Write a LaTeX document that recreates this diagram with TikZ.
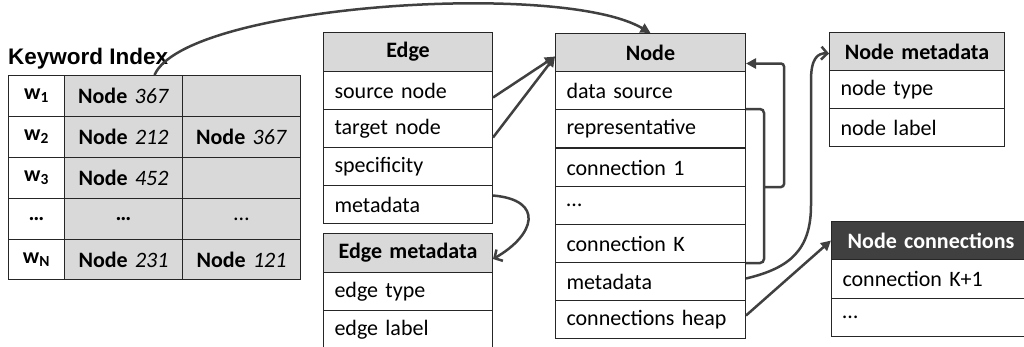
\documentclass[tikz,border=0pt]{standalone}
\usepackage{fontspec}
\setmainfont{Carlito}
\newfontfamily\titlefont{Liberation Sans}
\usetikzlibrary{arrows.meta}
\definecolor{hdrgray}{HTML}{D9D9D9}
\definecolor{linkgray}{HTML}{404040}
\definecolor{rulegray}{HTML}{262626}

\begin{document}
\begin{tikzpicture}[x=1pt,y=-1pt,
  cell/.style={draw=rulegray, line width=1pt, anchor=north west,
    inner xsep=11pt, inner ysep=0pt, minimum height=38pt, align=left,
    font=\fontsize{22}{26}\selectfont},
  hdr/.style={cell, fill=hdrgray, align=center, font=\fontsize{22}{26}\selectfont\bfseries},
  darkhdr/.style={hdr, fill=linkgray, text=white},
  kwcell/.style={cell, inner xsep=0pt, align=center, minimum height=41pt},
  kwgray/.style={kwcell, fill=hdrgray},
  conn/.style={draw=linkgray, line width=2.5pt},
  tri/.style={conn, -{Triangle[length=10pt,width=10pt]}},
  barb/.style={conn, -{Straight Barb[length=6pt,width=13pt]}}
]
\useasboundingbox (0,0) rectangle (1024,346);
\clip (0,0) rectangle (1024,346);

% ---- keyword index ----
\node[anchor=base west, inner sep=0pt, font=\titlefont\fontsize{22.5}{26}\selectfont\bfseries] (kwtitle) at (8,64) {Keyword Index};

\node[kwcell, text width=56pt]  (kw1a) at (8,75)   {\textbf{w\textsubscript{1}}};
\node[kwgray, text width=118pt] (kw1b) at (64,75)  {\textbf{Node} \textit{367}};
\node[kwgray, text width=118pt] (kw1c) at (182,75) {};
\node[kwcell, text width=56pt]  (kw2a) at (8,116)   {\textbf{w\textsubscript{2}}};
\node[kwgray, text width=118pt] (kw2b) at (64,116)  {\textbf{Node} \textit{212}};
\node[kwgray, text width=118pt] (kw2c) at (182,116) {\textbf{Node} \textit{367}};
\node[kwcell, text width=56pt]  (kw3a) at (8,157)   {\textbf{w\textsubscript{3}}};
\node[kwgray, text width=118pt] (kw3b) at (64,157)  {\textbf{Node} \textit{452}};
\node[kwgray, text width=118pt] (kw3c) at (182,157) {};
\node[kwcell, text width=56pt]  (kw4a) at (8,198)   {\textbf{…}};
\node[kwgray, text width=118pt] (kw4b) at (64,198)  {\textbf{…}};
\node[kwgray, text width=118pt] (kw4c) at (182,198) {…};
\node[kwcell, text width=56pt, minimum height=40pt]  (kw5a) at (8,239)   {\textbf{w\textsubscript{N}}};
\node[kwgray, text width=118pt, minimum height=40pt] (kw5b) at (64,239)  {\textbf{Node} \textit{231}};
\node[kwgray, text width=118pt, minimum height=40pt] (kw5c) at (182,239) {\textbf{Node} \textit{121}};

% ---- edge ----
\node[hdr,  text width=147pt, minimum height=39pt] (eh) at (323,32) {Edge};
\node[cell, text width=147pt] (e1) at (323,71)  {source node};
\node[cell, text width=147pt] (e2) at (323,109) {target node};
\node[cell, text width=147pt] (e3) at (323,147) {specificity};
\node[cell, text width=147pt] (e4) at (323,185) {metadata};

% ---- edge metadata ----
\node[hdr,  text width=147pt, minimum height=39pt] (emh) at (323,233) {Edge metadata};
\node[cell, text width=147pt] (em1) at (323,272) {edge type};
\node[cell, text width=147pt] (em2) at (323,310) {edge label};

% ---- node ----
\node[hdr,  text width=168pt] (nh) at (555,33) {Node};
\node[cell, text width=168pt] (n1) at (555,71)  {data source};
\node[cell, text width=168pt] (n2) at (555,109) {representative};
\node[cell, text width=168pt] (n3) at (555,148) {connection 1};
\node[cell, text width=168pt] (n4) at (555,186) {…};
\node[cell, text width=168pt] (n5) at (555,224) {connection K};
\node[cell, text width=168pt] (n6) at (555,262) {metadata};
\node[cell, text width=168pt] (n7) at (555,300) {connections heap};

% ---- node metadata ----
\node[hdr,  text width=153pt] (nmh) at (829,32) {Node metadata};
\node[cell, text width=153pt] (nm1) at (829,70)  {node type};
\node[cell, text width=153pt] (nm2) at (829,108) {node label};

% ---- node connections ----
\node[darkhdr, text width=177pt] (nch) at (831,221) {Node connections};
\node[cell, text width=177pt, minimum height=39pt] (nc1) at (831,259) {connection K+1};
\node[cell, text width=177pt] (nc2) at (831,298) {…};

% ---- links ----
\draw[tri] ([xshift=31pt]kw1b.north) .. controls (185,5) and (560,-20) .. (nh.north);
\draw[tri] ([yshift=-7pt]e1.east) -- ([yshift=-4pt]nh.west);
\draw[tri] ([yshift=-9pt]e2.east) -- ([yshift=-4pt]nh.west);
\draw[barb] ([yshift=9pt]e4.east) .. controls (545,200) and (535,235) .. ([yshift=-6pt]emh.east);

% bracket over representative .. connection K, pointing back to the node
\draw[conn, rounded corners=4pt] (n2.north east) -- ++(18,0) |- (n5.south east);
\coordinate (brk) at ([xshift=18pt]n3.south east);
\draw[tri, rounded corners=3pt] (brk) -- ++(20,0) |- ([yshift=-11pt]nh.east);

\draw[barb] ([yshift=3pt]n6.east) .. controls (790,268) and (811,250) .. (811,205)
  -- (811,80) .. controls (811,58) and (818,53) .. ([yshift=-2pt]nmh.west);
\draw[tri] ([yshift=4pt]n7.east) -- (nch.west);
\end{tikzpicture}
\end{document}
